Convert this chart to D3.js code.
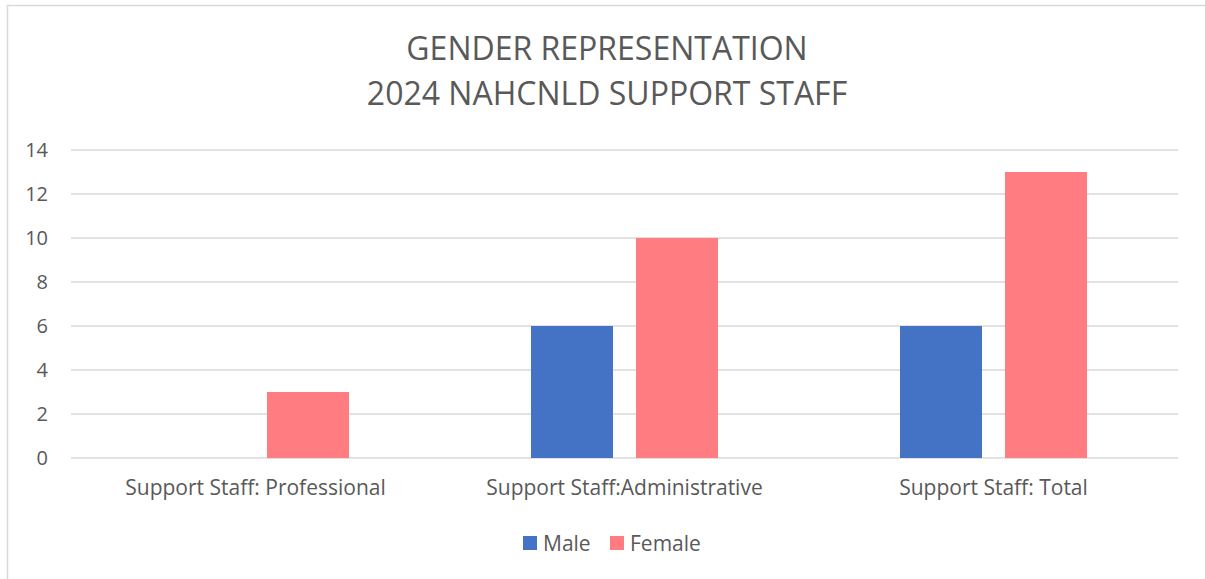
<!DOCTYPE html>
<html>
<head>
<meta charset="utf-8">
<script src="https://cdn.jsdelivr.net/npm/d3@7"></script>
<style>
    body { margin: 0; background: #fff; }
    svg text { font-family: "Open Sans", sans-serif; fill: #595959; }
</style>
</head>
<body>
<svg id="chart"></svg>
<script>
const categories = ["Support Staff: Professional", "Support Staff:Administrative", "Support Staff: Total"];
const seriesNames = ["Male", "Female"];
const maleValues = [0, 6, 6];
const femaleValues = [3, 10, 13];
const yTicks = [0, 2, 4, 6, 8, 10, 12, 14];
const titleLines = ["GENDER REPRESENTATION", "2024 NAHCNLD SUPPORT STAFF"];
const colors = ["#4472C4", "#FF7C80"];

const width = 1205;
const height = 579;
const margin = {left: 71, right: 27, top: 150, bottom: 121};

let svg = d3.select("#chart").attr("width", width).attr("height", height);

// рамка
svg.append("rect")
    .attr("x", 7.5).attr("y", 5.5)
    .attr("width", width + 20).attr("height", height + 20)
    .attr("fill", "none").attr("stroke", "#D9D9D9").attr("stroke-width", 1.5);

// Заголовок
svg.append("g")
    .selectAll("text")
    .data(titleLines)
    .join("text")
    .attr("x", 607)
    .attr("y", (d, i) => 60 + i * 45)
    .attr("text-anchor", "middle")
    .attr("font-size", 32)
    .text(d => d);

let data = categories.map((c, i) => ({cat: c, values: [maleValues[i], femaleValues[i]]}));

let scaleX = d3.scaleBand()
    .domain(categories)
    .range([margin.left, width - margin.right]);

let scaleInner = d3.scaleBand()
    .domain(seriesNames)
    .range([0, scaleX.bandwidth()])
    .paddingInner(23 / 105)
    .paddingOuter(0.8667);

let scaleY = d3.scaleLinear()
    .domain([0, 14])
    .range([height - margin.bottom, margin.top]);

// сетка
svg.append("g")
    .selectAll("line")
    .data(yTicks)
    .join("line")
    .attr("x1", margin.left)
    .attr("x2", width - margin.right)
    .attr("y1", d => scaleY(d))
    .attr("y2", d => scaleY(d))
    .attr("stroke", "#D9D9D9")
    .attr("stroke-width", 1.5);

// ось Y
let axisY = d3.axisLeft(scaleY).tickValues(yTicks).tickSize(0).tickPadding(23);
let gy = svg.append("g")
    .attr("transform", "translate(" + margin.left + ",0)")
    .call(axisY);
gy.select(".domain").remove();
gy.selectAll("text").attr("font-size", 20).attr("font-family", "Open Sans").attr("fill", "#595959");

// бары
svg.append("g")
    .selectAll("g")
    .data(data)
    .join("g")
    .attr("transform", d => "translate(" + scaleX(d.cat) + ",0)")
    .selectAll("rect")
    .data(d => d.values.map((v, i) => ({name: seriesNames[i], value: v, color: colors[i]})))
    .join("rect")
    .attr("x", d => scaleInner(d.name))
    .attr("width", scaleInner.bandwidth())
    .attr("y", d => scaleY(d.value))
    .attr("height", d => scaleY(0) - scaleY(d.value))
    .attr("fill", d => d.color);

// ось X
let axisX = d3.axisBottom(scaleX).tickSize(0).tickPadding(22);
let gx = svg.append("g")
    .attr("transform", "translate(0," + scaleY(0) + ")")
    .call(axisX);
gx.select(".domain").remove();
gx.selectAll("text").attr("font-size", 21).attr("font-family", "Open Sans").attr("fill", "#595959");

// Легенда
const legendX = [523, 610];
let legend = svg.append("g")
    .selectAll("g")
    .data(seriesNames)
    .join("g")
    .attr("transform", (d, i) => "translate(" + legendX[i] + ",536)");
legend.append("rect")
    .attr("width", 14).attr("height", 14)
    .attr("fill", (d, i) => colors[i]);
legend.append("text")
    .attr("x", 20).attr("y", 15)
    .attr("font-size", 21)
    .text(d => d);
</script>
</body>
</html>
